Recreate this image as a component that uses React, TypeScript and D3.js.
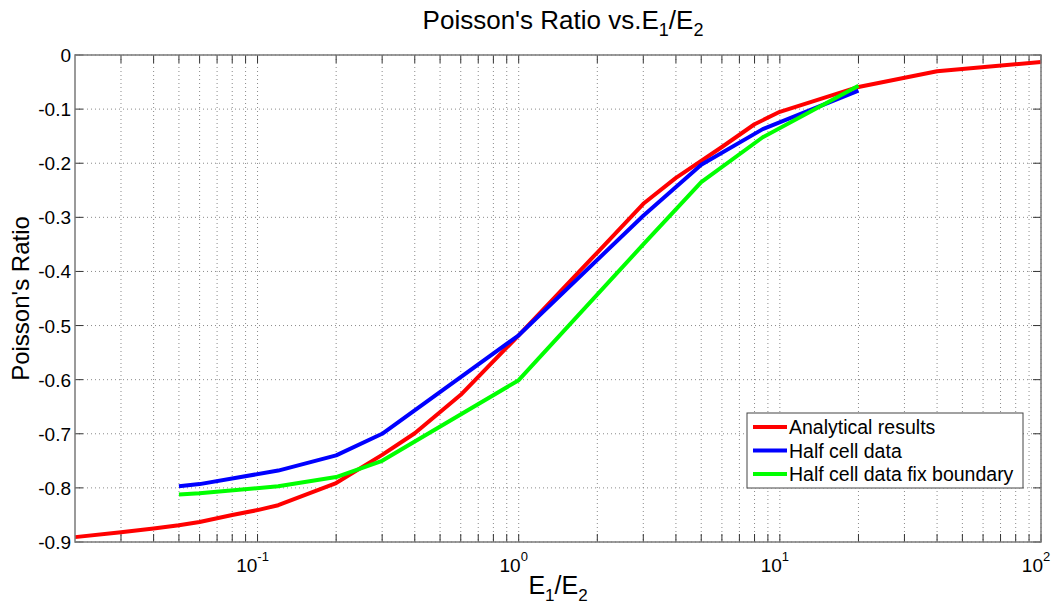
import React from "react";
import * as d3 from "d3";

const analyticalX = [0.02, 0.03, 0.04, 0.05, 0.06, 0.08, 0.1, 0.12, 0.2, 0.3, 0.4, 0.6, 1, 2, 3, 4, 6, 8, 10, 20, 40, 100];
const analyticalY = [-0.891, -0.882, -0.875, -0.869, -0.863, -0.85, -0.841, -0.832, -0.791, -0.739, -0.699, -0.628, -0.518, -0.365, -0.275, -0.227, -0.17, -0.128, -0.105, -0.059, -0.03, -0.013];

const halfCellX = [0.05, 0.06, 0.12, 0.2, 0.3, 1, 3, 5, 8.6, 20];
const halfCellY = [-0.797, -0.793, -0.768, -0.74, -0.7, -0.518, -0.297, -0.203, -0.137, -0.066];

const fixBoundaryX = [0.05, 0.06, 0.12, 0.2, 0.3, 1, 3, 5, 8.6, 20];
const fixBoundaryY = [-0.812, -0.81, -0.797, -0.78, -0.75, -0.601, -0.35, -0.235, -0.152, -0.057];

const seriesNames = ["Analytical results", "Half cell data", "Half cell data fix boundary"];
const seriesColors = ["#ff0000", "#0000ff", "#00ff00"];

const yTicks = [0, -0.1, -0.2, -0.3, -0.4, -0.5, -0.6, -0.7, -0.8, -0.9];
const yTickLabels = ["0", "-0.1", "-0.2", "-0.3", "-0.4", "-0.5", "-0.6", "-0.7", "-0.8", "-0.9"];
const xMajor = [0.1, 1, 10, 100];
const xMajorExp = ["-1", "0", "1", "2"];

const W = 1058, H = 608;
const L = 75, R = 1041, T = 55, B = 542;
const FONT = "'Liberation Sans', Arial, sans-serif";

export default function App() {
  const x = d3.scaleLog().domain([0.02, 100]).range([L, R]);
  const y = d3.scaleLinear().domain([-0.9, 0]).range([B, T]);

  const minor: number[] = [];
  [0.01, 0.1, 1, 10].forEach((d) => {
    for (let k = 1; k <= 9; k++) {
      const v = d * k;
      if (v >= 0.0299 && v <= 100 && !xMajor.some((m) => Math.abs(m - v) < 1e-9)) minor.push(v);
    }
  });
  const allX = [...minor, ...xMajor];

  const line = d3
    .line<[number, number]>()
    .x((d) => x(d[0]))
    .y((d) => y(d[1]));

  const series = [
    analyticalX.map((v, i) => [v, analyticalY[i]] as [number, number]),
    halfCellX.map((v, i) => [v, halfCellY[i]] as [number, number]),
    fixBoundaryX.map((v, i) => [v, fixBoundaryY[i]] as [number, number]),
  ];

  const tick = 8;
  const lg = { x: 747, y: 413, w: 276, h: 75 };

  return (
    <svg width={W} height={H} style={{ position: "absolute", left: 0, top: 0, background: "#fff" }} fontFamily={FONT}>
      <rect x={0} y={0} width={W} height={H} fill="#fff" />
      {allX.map((v, i) => (
        <line key={"gx" + i} x1={x(v)} x2={x(v)} y1={T} y2={B} stroke="#8a8a8a" strokeWidth={1} strokeDasharray="1,3" />
      ))}
      {yTicks.map((v, i) => (
        <line key={"gy" + i} x1={L} x2={R} y1={y(v)} y2={y(v)} stroke="#8a8a8a" strokeWidth={1} strokeDasharray="1,3" />
      ))}
      {allX.map((v, i) => (
        <g key={"tx" + i}>
          <line x1={x(v)} x2={x(v)} y1={B} y2={B - tick} stroke="#333" />
          <line x1={x(v)} x2={x(v)} y1={T} y2={T + tick} stroke="#333" />
        </g>
      ))}
      {yTicks.map((v, i) => (
        <g key={"ty" + i}>
          <line x1={L} x2={L + tick} y1={y(v)} y2={y(v)} stroke="#333" />
          <line x1={R} x2={R - tick} y1={y(v)} y2={y(v)} stroke="#333" />
        </g>
      ))}
      {series.map((s, i) => (
        <path key={"s" + i} d={line(s) || ""} fill="none" stroke={seriesColors[i]} strokeWidth={4} strokeLinejoin="round" />
      ))}
      <rect x={L} y={T} width={R - L} height={B - T} fill="none" stroke="#7a7a7a" strokeWidth={1.5} />
      {yTicks.map((v, i) => (
        <text key={"yl" + i} x={L - 4} y={y(v) + 7} textAnchor="end" fontSize={19} fill="#000">
          {yTickLabels[i]}
        </text>
      ))}
      {xMajor.map((v, i) => (
        <text key={"xl" + i} x={x(v) - 5} y={572} textAnchor="middle" fontSize={19} fill="#000">
          10
          <tspan dy={-11} fontSize={13}>{xMajorExp[i]}</tspan>
        </text>
      ))}
      <text x={563} y={29} textAnchor="middle" fontSize={26} fill="#000">
        Poisson's Ratio vs.E<tspan dy={7} fontSize={18}>1</tspan>
        <tspan dy={-7}>/E</tspan>
        <tspan dy={7} fontSize={18}>2</tspan>
      </text>
      <text x={558} y={594} textAnchor="middle" fontSize={25} fill="#000">
        E<tspan dy={7} fontSize={17}>1</tspan>
        <tspan dy={-7}>/E</tspan>
        <tspan dy={7} fontSize={17}>2</tspan>
      </text>
      <text transform={`translate(29,${(T + B) / 2}) rotate(-90)`} textAnchor="middle" fontSize={24} fill="#000">
        Poisson's Ratio
      </text>
      <rect x={lg.x} y={lg.y} width={lg.w} height={lg.h} fill="#fff" stroke="#444" strokeWidth={1} />
      {seriesNames.map((n, i) => (
        <g key={"lg" + i}>
          <line x1={753} x2={787} y1={427 + i * 23.5} y2={427 + i * 23.5} stroke={seriesColors[i]} strokeWidth={4} />
          <text x={789} y={427 + i * 23.5 + 7} fontSize={19.5} fill="#000">
            {n}
          </text>
        </g>
      ))}
    </svg>
  );
}
